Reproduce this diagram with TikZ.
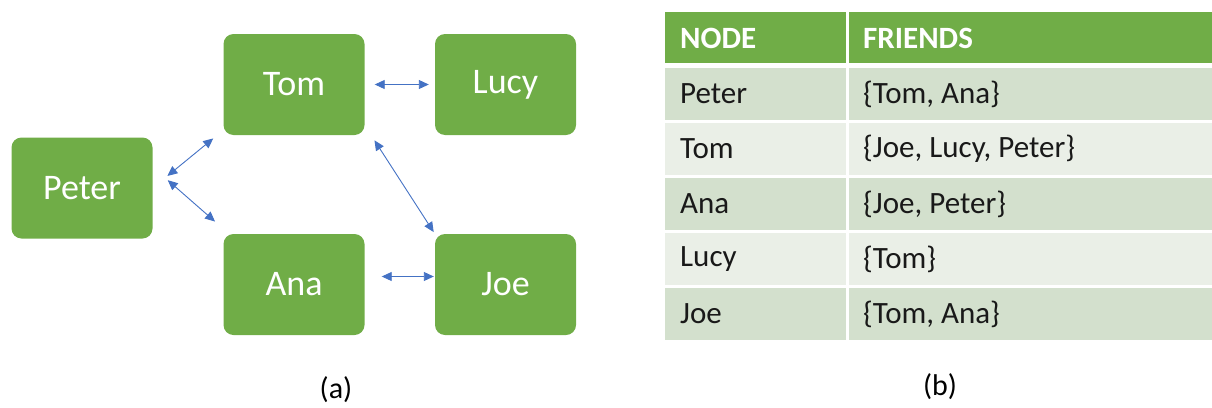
\documentclass[tikz,border=0pt]{standalone}
\usepackage{fontspec}
\setmainfont{Carlito}
\usepackage{tikz}
\usetikzlibrary{arrows.meta,positioning}
\definecolor{boxgreen}{RGB}{112,173,71}
\definecolor{linkblue}{RGB}{68,114,196}
\definecolor{banddark}{RGB}{211,224,205}
\definecolor{bandlight}{RGB}{234,239,231}
\tikzstyle{person} = [rectangle, rounded corners=10pt, fill=boxgreen, text=white, minimum width=141pt, minimum height=101pt, inner sep=0pt, font=\fontsize{36}{40}\selectfont]
\tikzstyle{link} = [line width=0.9pt, {Triangle[length=10pt,width=9pt]}-{Triangle[length=10pt,width=9pt]}, color=linkblue]
\tikzstyle{head} = [anchor=west, inner sep=0pt, text=white, font=\fontsize{31}{36}\selectfont\bfseries]
\tikzstyle{cell} = [anchor=west, inner sep=0pt, text=black!90, font=\fontsize{31}{36}\selectfont]

\begin{document}
\begin{tikzpicture}[x=1pt, y=-1pt]
    \useasboundingbox (0,0) rectangle (1212,407);

    % Friends graph
    \node[person] (peter) at (82,188) {Peter};
    \node[person] (tom) at (294,84.5) {Tom};
    \node[person] (lucy) at (505.5,84.5) {Lucy};
    \node[person] (ana) at (294,284.5) {Ana};
    \node[person] (joe) at (505.5,284.5) {Joe};

    \draw[link, shorten <=19pt, shorten >=13pt] (peter.east) -- ([yshift=5pt]tom.south west);
    \draw[link, shorten <=20pt, shorten >=11pt] ([yshift=21pt]peter.east) -- ([yshift=5pt]ana.north west);
    \draw[link, shorten <=10pt, shorten >=6pt] (tom.east) -- (lucy.west);
    \draw[link, shorten <=18pt, shorten >=2pt] ([yshift=10pt]tom.south east) -- (joe.north west);
    \draw[link, shorten <=17pt, shorten >=1pt] ([yshift=8pt]ana.east) -- ([yshift=8pt]joe.west);

    \node[font=\fontsize{30}{34}\selectfont] (capa) at (336,390) {(a)};

    % Adjacency table
    \fill[boxgreen] (665,12) rectangle (845.5,63);
    \fill[boxgreen] (848.5,12) rectangle (1212,63);
    \node[head] (hnode) at (680,38) {NODE};
    \node[head] (hfriends) at (863,38) {FRIENDS};

    \foreach \i/\who/\set/\band in {0/Peter/{\{Tom, Ana\}}/banddark, 1/Tom/{\{Joe, Lucy, Peter\}}/bandlight, 2/Ana/{\{Joe, Peter\}}/banddark, 3/Lucy/{\{Tom\}}/bandlight, 4/Joe/{\{Tom, Ana\}}/banddark} {
        \pgfmathsetmacro\rowtop{68+55*\i}
        \fill[\band] (665,\rowtop) rectangle (845.5,\rowtop+52);
        \fill[\band] (848.5,\rowtop) rectangle (1212,\rowtop+52);
        \node[cell] (who\i) at (680,\rowtop+26) {\who};
        \node[cell] (set\i) at (863,\rowtop+26) {\set};
    }

    \node[font=\fontsize{30}{34}\selectfont] (capb) at (940,387) {(b)};
\end{tikzpicture}
\end{document}
